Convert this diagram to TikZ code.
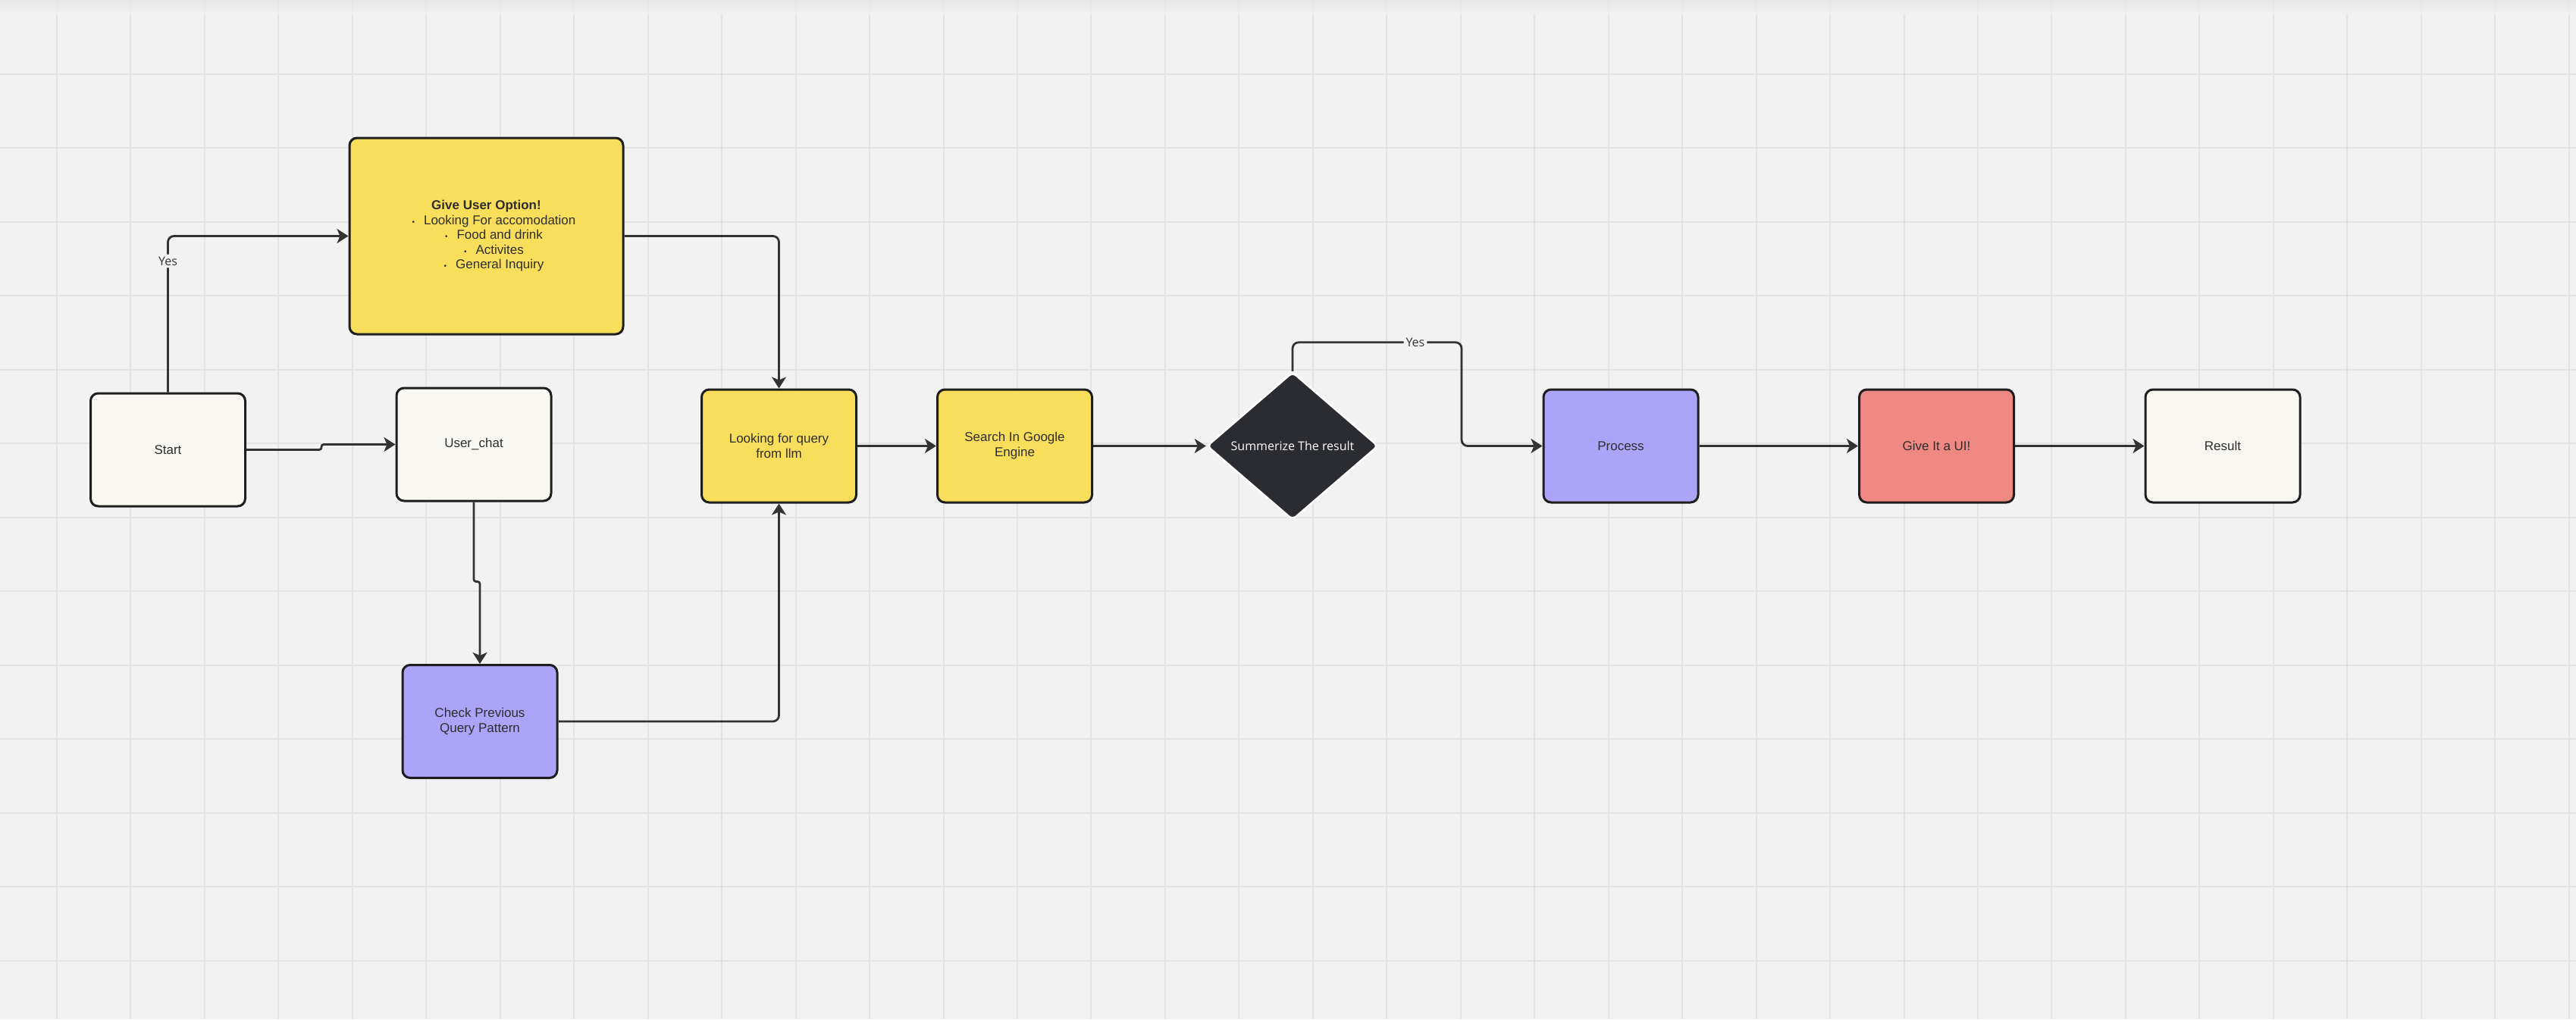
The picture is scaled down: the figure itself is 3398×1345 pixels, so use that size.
\documentclass[tikz,border=0pt]{standalone}
\usepackage{fontspec}
\setmainfont{Liberation Sans}
\newfontfamily\opensans{Open Sans}
\usetikzlibrary{shapes.geometric,arrows.meta}

\definecolor{bg}{HTML}{F2F2F2}
\definecolor{gridc}{HTML}{E4E4E4}
\definecolor{boxline}{HTML}{1E1E1E}
\definecolor{wire}{HTML}{333333}
\definecolor{txt}{HTML}{2E2E2E}
\definecolor{ylw}{HTML}{F9DE5B}
\definecolor{cream}{HTML}{F9F7F1}
\definecolor{lilac}{HTML}{ABA4F8}
\definecolor{salmon}{HTML}{EF8782}
\definecolor{darkbox}{HTML}{2B2C31}

% small centred bullet for the option list
\newcommand\optbullet{\hspace*{10pt}{\fontsize{5}{5}\selectfont\textbullet}\hspace{6pt}}

\tikzset{
  box/.style={draw=boxline, line width=1.5pt, rounded corners=5pt,
    minimum width=102pt, minimum height=74.5pt, inner sep=2pt,
    align=center, text=txt, font=\fontsize{8.5}{10}\selectfont},
  conn/.style={draw=wire, line width=1.4pt, rounded corners=4pt,
    -{Stealth[length=7.5pt,width=9.5pt,inset=2pt]}},
  yeslbl/.style={fill=bg, inner sep=1.5pt, text=wire,
    font=\opensans\fontsize{8}{9}\selectfont}
}

\begin{document}
\begin{tikzpicture}[x=0.5pt,y=-0.5pt]
  % canvas and grid
  \useasboundingbox (0,0) rectangle (3398,1345);
  \fill[bg] (0,0) rectangle (3398,1345);
  \foreach \k in {0,...,34}
    \draw[gridc, line width=1pt] ({75+97.46*\k},0) -- ({75+97.46*\k},1345);
  \foreach \j in {1,...,13}
    \draw[gridc, line width=1pt] (0,{97.5*\j}) -- (3398,{97.5*\j});
  \shade[top color=gridc, bottom color=bg, opacity=0.8] (0,0) rectangle (3398,18);

  % nodes
  \node[box, fill=cream] (start) at (221.5,593.5) {Start};
  \node[box, fill=cream] (userchat) at (625,586.5) {User\_chat};
  \node[box, fill=ylw, minimum width=180.5pt, minimum height=129.5pt,
        font=\fontsize{8.5}{9.75}\selectfont] (give) at (641.5,311.5)
    {\textbf{Give User Option!}\\
     \optbullet Looking For accomodation\\
     \optbullet Food and drink\\
     \optbullet Activites\\
     \optbullet General Inquiry};
  \node[box, fill=lilac] (check) at (633,952) {Check Previous\\Query Pattern};
  \node[box, fill=ylw] (looking) at (1027.5,588.5) {Looking for query\\from llm};
  \node[box, fill=ylw] (search) at (1338.5,588.5) {Search In Google\\Engine};
  \node[diamond, draw=white, line width=1.2pt, fill=darkbox, aspect=1.16,
        minimum width=113pt, minimum height=97.5pt, inner sep=0pt,
        rounded corners=3pt, text=white, font=\opensans\fontsize{8}{9}\selectfont]
        (summ) at (1705,588.5) {Summerize The result};
  \node[box, fill=lilac] (process) at (2138,588.5) {Process};
  \node[box, fill=salmon] (giveui) at (2554.5,588.5) {Give It a UI!};
  \node[box, fill=cream] (result) at (2932,588.5) {Result};

  % connectors
  \draw[conn] (start.north) |- node[yeslbl, pos=0.42] (yes1) {Yes} (give.west);
  \draw[conn, rounded corners=1.5pt] (start.east) -- ++(99,0) |- (userchat.west);
  \draw[conn, rounded corners=1.5pt] (userchat.south) -- ++(0,105) -| (check.north);
  \draw[conn] (give.east) -| (looking.north);
  \draw[conn] (check.east) -| (looking.south);
  \draw[conn] (looking.east) -- (search.west);
  \draw[conn] (search.east) -- (summ.west);
  \draw[conn] (summ.north) -- ++(0,-38) -- node[yeslbl, pos=0.726] (yes2) {Yes} ++(223,0) |- (process.west);
  \draw[conn] (process.east) -- (giveui.west);
  \draw[conn] (giveui.east) -- (result.west);
\end{tikzpicture}
\end{document}
